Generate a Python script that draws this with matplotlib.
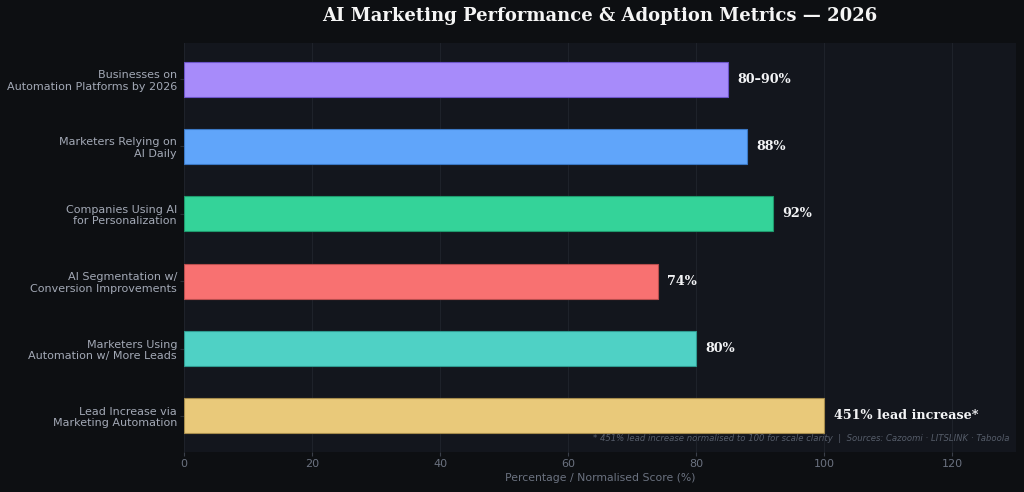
import matplotlib
matplotlib.use("Agg")
import matplotlib.pyplot as plt
import numpy as np

categories = [
    "Businesses on\nAutomation Platforms by 2026",
    "Marketers Relying on\nAI Daily",
    "Companies Using AI\nfor Personalization",
    "AI Segmentation w/\nConversion Improvements",
    "Marketers Using\nAutomation w/ More Leads",
    "Lead Increase via\nMarketing Automation",
]
values = [85, 88, 92, 74, 80, 100]
value_labels = ["80\u201390%", "88%", "92%", "74%", "80%", "451% lead increase*"]
colors = ["#a78bfa", "#60a5fa", "#34d399", "#f87171", "#4fd1c5", "#e9c97a"]
edges = ["#6d55c9", "#3b78c4", "#1f9a6d", "#b84e4e", "#2f9a90", "#a68c4c"]

fig = plt.figure(figsize=(10.24, 4.92), dpi=100, facecolor="#0d0f12")
ax = fig.add_axes([0.1797, 0.0813, 0.8125, 0.8313])
ax.set_facecolor("#13161d")

y = np.arange(len(categories))
ax.barh(y, values, height=0.52, color=colors, edgecolor=edges, linewidth=0.8, zorder=3)
ax.invert_yaxis()
ax.set_xlim(0, 130)

for yi, v, lab in zip(y, values, value_labels):
    ax.text(v + 1.5, yi, lab, va="center", ha="left", color="#f3f4f6",
            fontsize=9.2, fontweight="bold", family="DejaVu Serif", zorder=4)

ax.set_yticks(y)
ax.set_yticklabels(categories, fontsize=8, color="#a3a9b6")
ax.set_xticks([0, 20, 40, 60, 80, 100, 120])
ax.tick_params(axis="x", colors="#3a3f49", labelsize=8, length=3, pad=2)
ax.tick_params(axis="y", colors="#2a2e36", length=3, pad=2)
for t in ax.get_xticklabels():
    t.set_color("#6b7280")
for t in ax.get_yticklabels():
    t.set_color("#a3a9b6")

ax.xaxis.grid(True, color="#1e222a", linewidth=0.8, zorder=0)
ax.yaxis.grid(False)
for s in ax.spines.values():
    s.set_visible(False)

ax.set_xlabel("Percentage / Normalised Score (%)", fontsize=7.8, color="#6b7280", labelpad=3)

ax.text(0.992, 0.022, "* 451% lead increase normalised to 100 for scale clarity  |  Sources: Cazoomi \u00b7 LITSLINK \u00b7 Taboola",
        transform=ax.transAxes, ha="right", va="bottom", fontsize=6.1, style="italic",
        color="#565d6a", zorder=5)

fig.text(0.586, 0.967, "AI Marketing Performance & Adoption Metrics \u2014 2026",
         ha="center", va="center", fontsize=13, fontweight="bold",
         family="DejaVu Serif", color="#f5f5f5")

fig.savefig("out.png", dpi=100, facecolor=fig.get_facecolor())
